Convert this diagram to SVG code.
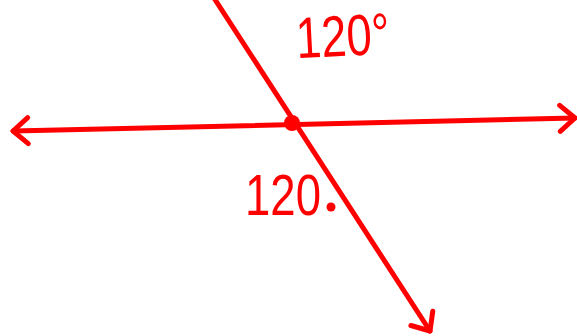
<svg xmlns="http://www.w3.org/2000/svg" width="577" height="336" viewBox="0 0 577 336">
<style>
.ln{stroke:#ff0000;stroke-width:5;fill:none;stroke-linecap:round;stroke-linejoin:round}
.lbl{font-family:"Liberation Sans",Arial,sans-serif;fill:#ff0000;font-size:58px}
</style>
<defs>
<marker id="ah" markerUnits="userSpaceOnUse" markerWidth="40" markerHeight="40" viewBox="-20 -20 40 40" refX="0" refY="0" orient="auto-start-reverse">
<path d="M-15,-13 L0,0 L-15,13" stroke="#ff0000" stroke-width="5" fill="none" stroke-linecap="round" stroke-linejoin="round"/>
</marker>
</defs>
<rect width="577" height="336" fill="#ffffff"/>
<g id="connectors">
<line class="ln" x1="13" y1="131" x2="575" y2="118" marker-start="url(#ah)" marker-end="url(#ah)"/>
<line class="ln" x1="214" y1="-2" x2="430" y2="331" marker-end="url(#ah)"/>
</g>
<g id="intersection">
<circle cx="292" cy="123" r="8" fill="#ff0000"/>
</g>
<g id="label-top">
<text class="lbl" x="296" y="56" textLength="94" lengthAdjust="spacingAndGlyphs" transform="rotate(-3 340 40)">120°</text>
</g>
<g id="label-bottom">
<text class="lbl" x="245" y="215" textLength="76" lengthAdjust="spacingAndGlyphs">120</text>
<circle cx="331" cy="207" r="4.5" fill="#ff0000"/>
</g>
</svg>
